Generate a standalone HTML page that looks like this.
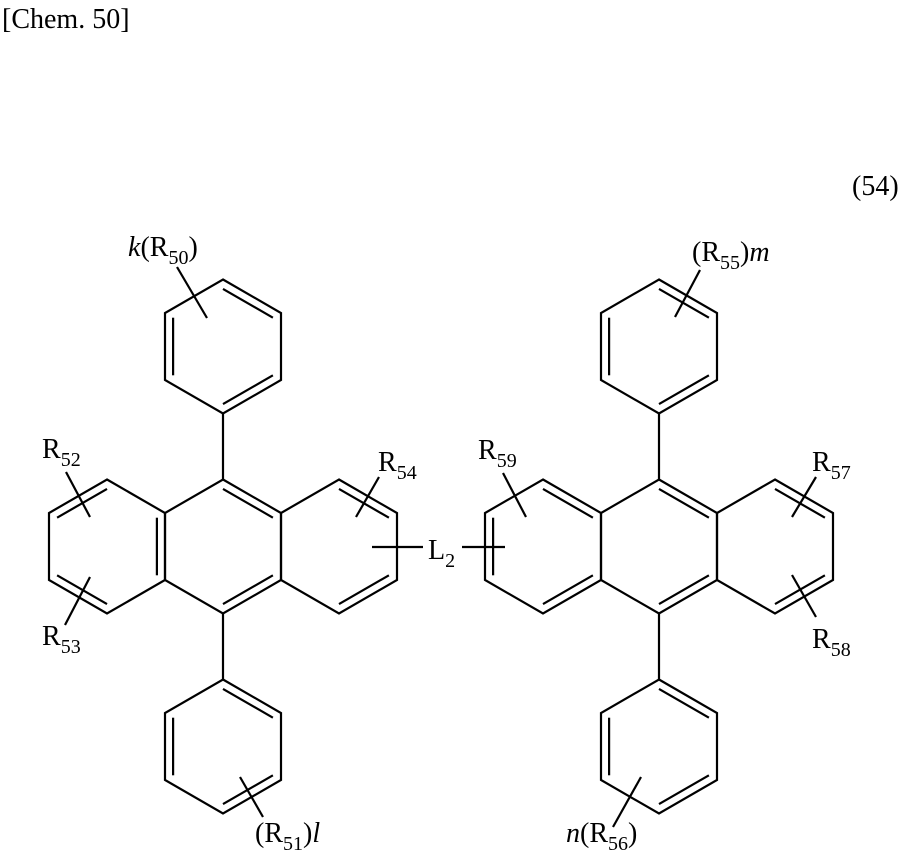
<!DOCTYPE html>
<html><head><meta charset="utf-8"><style>
html,body{margin:0;padding:0;background:#fff;}
svg{display:block;}
text{font-family:"Liberation Serif",serif;font-size:28px;fill:#000;}
.s{font-size:20px;}
</style></head><body>
<svg width="900" height="851" viewBox="0 0 900 851" xmlns="http://www.w3.org/2000/svg">
<defs>
<path id="hex" d="M0,-67 L58,-33.5 L58,33.5 L0,67 L-58,33.5 L-58,-33.5 Z" fill="none" stroke="#000" stroke-width="2.2" stroke-linejoin="miter"/>
<path id="d2" d="M0,-57.6 L49.9,-28.8 M49.9,28.8 L0,57.6" fill="none" stroke="#000" stroke-width="2.2"/>
<path id="dl" d="M-49.9,-28.8 L-49.9,28.8" fill="none" stroke="#000" stroke-width="2.2"/>
<path id="dr" d="M49.9,-28.8 L49.9,28.8" fill="none" stroke="#000" stroke-width="2.2"/>
<path id="dx" d="M0,-57.6 L-49.9,-28.8 M-49.9,28.8 L0,57.6" fill="none" stroke="#000" stroke-width="2.2"/>
</defs>

<text x="2" y="28">[Chem. 50]</text>
<text x="852" y="195">(54)</text>

<g transform="translate(223,346.5)"><use href="#hex"/><use href="#d2"/><use href="#dl"/></g>
<g transform="translate(223,546.5)"><use href="#hex"/><use href="#d2"/></g>
<g transform="translate(107,546.5)"><use href="#hex"/><use href="#dx"/><use href="#dr"/></g>
<g transform="translate(339,546.5)"><use href="#hex"/><use href="#d2"/></g>
<g transform="translate(223,746.5)"><use href="#hex"/><use href="#d2"/><use href="#dl"/></g>

<g transform="translate(659,346.5)"><use href="#hex"/><use href="#d2"/><use href="#dl"/></g>
<g transform="translate(659,546.5)"><use href="#hex"/><use href="#d2"/></g>
<g transform="translate(543,546.5)"><use href="#hex"/><use href="#d2"/><use href="#dl"/></g>
<g transform="translate(775,546.5)"><use href="#hex"/><use href="#d2"/></g>
<g transform="translate(659,746.5)"><use href="#hex"/><use href="#d2"/><use href="#dl"/></g>

<g stroke="#000" stroke-width="2.2" fill="none">
<line x1="223" y1="413" x2="223" y2="480"/>
<line x1="223" y1="613" x2="223" y2="680"/>
<line x1="659" y1="413" x2="659" y2="480"/>
<line x1="659" y1="613" x2="659" y2="680"/>
<line x1="177" y1="267" x2="207" y2="318"/>
<line x1="66" y1="472" x2="90" y2="517"/>
<line x1="90" y1="577" x2="65" y2="625"/>
<line x1="379" y1="477" x2="356" y2="517"/>
<line x1="240" y1="777" x2="263" y2="817"/>
<line x1="700" y1="270" x2="675" y2="317"/>
<line x1="503" y1="473" x2="526" y2="517"/>
<line x1="816" y1="477" x2="792" y2="517"/>
<line x1="792" y1="575" x2="816" y2="617"/>
<line x1="641" y1="777" x2="613" y2="827"/>
<line x1="372" y1="547" x2="423" y2="547"/>
<line x1="462" y1="547" x2="505" y2="547"/>
</g>

<text x="128" y="256"><tspan font-style="italic">k</tspan>(R<tspan class="s" dy="8">50</tspan><tspan dy="-8">)</tspan></text>
<text x="42" y="458">R<tspan class="s" dy="8">52</tspan></text>
<text x="42" y="645">R<tspan class="s" dy="8">53</tspan></text>
<text x="378" y="471">R<tspan class="s" dy="8">54</tspan></text>
<text x="428" y="559">L<tspan class="s" dy="8">2</tspan></text>
<text x="255" y="842">(R<tspan class="s" dy="8">51</tspan><tspan dy="-8">)</tspan><tspan font-style="italic">l</tspan></text>
<text x="692" y="261">(R<tspan class="s" dy="8">55</tspan><tspan dy="-8">)</tspan><tspan font-style="italic">m</tspan></text>
<text x="478" y="459">R<tspan class="s" dy="8">59</tspan></text>
<text x="812" y="471">R<tspan class="s" dy="8">57</tspan></text>
<text x="812" y="648">R<tspan class="s" dy="8">58</tspan></text>
<text x="566" y="842"><tspan font-style="italic">n</tspan>(R<tspan class="s" dy="8">56</tspan><tspan dy="-8">)</tspan></text>
</svg>
</body></html>
